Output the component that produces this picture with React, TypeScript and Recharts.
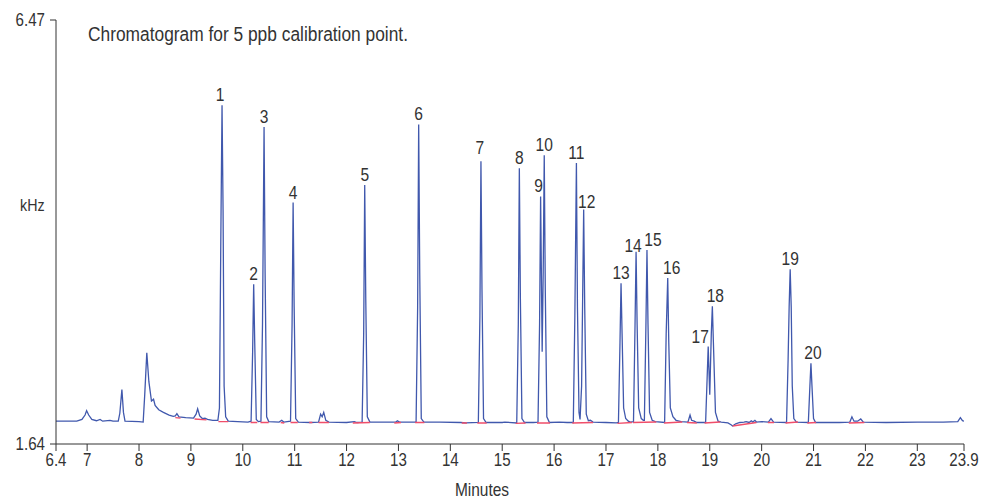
import React from "react";
import { ComposedChart, Line, Scatter, XAxis, YAxis, Label } from "recharts";

// minutes / kHz
const trace: [number, number][] = [
  [6.4, 1.9], [6.6, 1.9], [6.8, 1.9], [6.9, 1.92], [6.96, 1.97], [6.99, 2.02], [7.03, 1.97], [7.09, 1.92],
  [7.18, 1.905], [7.25, 1.92], [7.3, 1.9], [7.44, 1.91], [7.5, 1.9], [7.6, 1.9], [7.63, 1.99], [7.67, 2.26],
  [7.7, 2.0], [7.73, 1.9], [8.0, 1.895], [8.08, 1.89], [8.11, 2.2], [8.15, 2.68], [8.19, 2.35], [8.24, 2.13],
  [8.28, 2.15], [8.31, 2.08], [8.38, 2.03], [8.47, 2.0], [8.58, 1.97], [8.66, 1.955], [8.7, 1.96], [8.73, 1.985],
  [8.77, 1.95], [8.9, 1.94], [9.05, 1.935], [9.1, 1.98], [9.13, 2.04], [9.17, 1.96], [9.22, 1.93], [9.27, 1.935],
  [9.32, 1.92], [9.42, 1.91], [9.52, 1.91],
  [9.55, 2.05], [9.58, 4.2], [9.6, 5.5], [9.62, 4.3], [9.64, 2.3], [9.67, 1.95], [9.72, 1.9],
  [9.9, 1.895], [10.1, 1.89],
  [10.16, 1.9], [10.19, 2.7], [10.21, 3.46], [10.23, 2.8], [10.26, 1.92], [10.3, 1.895],
  [10.35, 1.9], [10.38, 3.0], [10.41, 5.25], [10.43, 3.6], [10.46, 1.95], [10.5, 1.895],
  [10.7, 1.89], [10.75, 1.91], [10.79, 1.89],
  [10.92, 1.9], [10.95, 3.0], [10.97, 4.39], [10.99, 3.2], [11.02, 1.93], [11.07, 1.89],
  [11.3, 1.885], [11.46, 1.89], [11.5, 1.98], [11.53, 1.95], [11.56, 2.0], [11.6, 1.91], [11.66, 1.89],
  [12.0, 1.885], [12.15, 1.895], [12.2, 1.885],
  [12.3, 1.89], [12.33, 2.9], [12.35, 4.59], [12.37, 3.3], [12.4, 1.95], [12.45, 1.89],
  [12.95, 1.89], [12.98, 1.905], [13.02, 1.89],
  [13.34, 1.89], [13.37, 3.2], [13.39, 5.28], [13.41, 3.6], [13.44, 1.93], [13.49, 1.89],
  [13.8, 1.89], [14.2, 1.885], [14.3, 1.88],
  [14.54, 1.885], [14.57, 3.1], [14.59, 4.86], [14.61, 3.4], [14.64, 1.93], [14.69, 1.885],
  [15.0, 1.885], [15.05, 1.89],
  [15.28, 1.88], [15.31, 3.0], [15.33, 4.78], [15.35, 3.3], [15.38, 1.93], [15.43, 1.885],
  [15.6, 1.885],
  [15.69, 1.89], [15.72, 3.0], [15.74, 4.46], [15.77, 2.69], [15.79, 3.6], [15.81, 4.93], [15.83, 3.4],
  [15.86, 1.95], [15.91, 1.885],
  [16.1, 1.89], [16.25, 1.885],
  [16.37, 1.885], [16.4, 3.1], [16.43, 4.84], [16.45, 3.2], [16.48, 2.0], [16.5, 1.92], [16.53, 2.3],
  [16.55, 3.3], [16.57, 4.31], [16.59, 3.2], [16.62, 1.98], [16.66, 1.905], [16.7, 1.91], [16.75, 1.89],
  [17.0, 1.885], [17.2, 1.88],
  [17.24, 1.885], [17.27, 2.8], [17.29, 3.47], [17.31, 2.9], [17.34, 2.05], [17.38, 1.93], [17.43, 1.9], [17.47, 1.89],
  [17.53, 1.895], [17.56, 3.0], [17.58, 3.83], [17.6, 3.0], [17.63, 2.05], [17.68, 1.93], [17.72, 1.91],
  [17.74, 1.91], [17.77, 3.0], [17.79, 3.85], [17.81, 3.0], [17.84, 2.0], [17.89, 1.91], [17.95, 1.895],
  [18.13, 1.885], [18.16, 2.9], [18.19, 3.53], [18.21, 2.8], [18.24, 2.05], [18.29, 1.95], [18.35, 1.91], [18.45, 1.895],
  [18.58, 1.89], [18.62, 1.97], [18.65, 1.91], [18.7, 1.9], [18.75, 1.885],
  [18.92, 1.885], [18.95, 2.4], [18.97, 2.75], [19.0, 2.2], [19.03, 2.9], [19.05, 3.21], [19.07, 2.8],
  [19.11, 2.0], [19.16, 1.9], [19.22, 1.89],
  [19.35, 1.88], [19.41, 1.86], [19.44, 1.845], [19.5, 1.87], [19.58, 1.885], [19.66, 1.89], [19.7, 1.895],
  [19.76, 1.885], [19.8, 1.905], [19.83, 1.89], [19.87, 1.91], [19.9, 1.89], [20.0, 1.895],
  [20.13, 1.89], [20.18, 1.93], [20.23, 1.89],
  [20.48, 1.885], [20.51, 2.6], [20.53, 3.2], [20.55, 3.63], [20.57, 3.2], [20.59, 2.3], [20.62, 1.93], [20.67, 1.89],
  [20.9, 1.885], [20.93, 2.3], [20.95, 2.56], [20.97, 2.3], [21.0, 1.93], [21.04, 1.885],
  [21.5, 1.885], [21.7, 1.89], [21.74, 1.95], [21.78, 1.9], [21.85, 1.9], [21.91, 1.925], [21.96, 1.89],
  [22.4, 1.885], [23.0, 1.89], [23.5, 1.89], [23.78, 1.895], [23.83, 1.94], [23.87, 1.905], [23.9, 1.9],
];

// integration baselines (start min, start kHz, end min, end kHz)
const baselines: [number, number, number, number][] = [
  [8.7, 1.94, 8.8, 1.935], [9.07, 1.925, 9.3, 1.915], [9.53, 1.895, 9.72, 1.895],
  [10.15, 1.885, 10.28, 1.885], [10.34, 1.885, 10.5, 1.885], [10.73, 1.885, 10.8, 1.88],
  [10.92, 1.885, 11.06, 1.885], [11.28, 1.885, 11.34, 1.885], [11.46, 1.885, 11.66, 1.885],
  [12.12, 1.88, 12.45, 1.885], [12.92, 1.88, 13.05, 1.885], [13.32, 1.885, 13.5, 1.885],
  [14.22, 1.88, 14.32, 1.88], [14.52, 1.88, 14.7, 1.88], [15.26, 1.875, 15.45, 1.88],
  [15.67, 1.88, 15.92, 1.88], [16.35, 1.88, 16.75, 1.885], [17.22, 1.875, 17.5, 1.885],
  [17.52, 1.885, 17.97, 1.89], [18.12, 1.88, 18.47, 1.89], [18.56, 1.885, 18.75, 1.88],
  [18.9, 1.88, 19.2, 1.89], [19.44, 1.845, 19.9, 1.885], [20.12, 1.885, 20.24, 1.885],
  [20.46, 1.88, 20.7, 1.89], [20.88, 1.88, 21.05, 1.885], [21.68, 1.88, 21.98, 1.885],
];

const peakLabels = ["1", "2", "3", "4", "5", "6", "7", "8", "9", "10", "11", "12", "13", "14", "15", "16", "17", "18", "19", "20"];
const peakMinutes = [9.6, 10.21, 10.41, 10.97, 12.35, 13.39, 14.59, 15.33, 15.74, 15.81, 16.43, 16.57, 17.29, 17.58, 17.79, 18.19, 18.97, 19.05, 20.55, 20.95];
const peakKHz = [5.5, 3.46, 5.25, 4.39, 4.59, 5.28, 4.86, 4.78, 4.46, 4.93, 4.84, 4.31, 3.47, 3.83, 3.85, 3.53, 2.75, 3.21, 3.63, 2.56];

const xTicks = [6.4, 7, 8, 9, 10, 11, 12, 13, 14, 15, 16, 17, 18, 19, 20, 21, 22, 23, 23.9];
const yTicks = [1.64, 6.47];

const traceData = trace.map(([t, v]) => ({ t, v }));
const baseData: { t: number; v: number | null }[] = [];
baselines.forEach(([t0, v0, t1, v1]) => {
  baseData.push({ t: t0, v: v0 }, { t: t1, v: v1 }, { t: t1 + 0.001, v: null });
});
const peakData = peakLabels.map((label, i) => ({ t: peakMinutes[i], v: peakKHz[i], label }));

const FONT = "'Liberation Sans', Arial, sans-serif";
const INK = "#333";

// the original uses a condensed face; squeeze Liberation Sans horizontally
function Narrow({ x, y, anchor = "middle", size = 18, sx = 0.84, dy, children }: any) {
  return (
    <g transform={`translate(${x},${y})`}>
      <text
        transform={`scale(${sx},1)`}
        textAnchor={anchor}
        dy={dy}
        fontSize={size}
        fill={INK}
        fontFamily={FONT}
      >
        {children}
      </text>
    </g>
  );
}

const XTick = (p: any) => (
  <Narrow x={p.x} y={p.y} dy="0.71em">
    {String(p.payload.value)}
  </Narrow>
);

const YTick = (p: any) => (
  <Narrow x={p.x} y={p.y} anchor="end" dy="0.355em">
    {String(p.payload.value)}
  </Narrow>
);

// small nudges so labels sit where they do in the original
const nudge: Record<string, [number, number]> = {
  "1": [-2, 0], "9": [-2, 0], "12": [3, 2], "14": [-3, 4], "15": [6, 0], "16": [4, 0],
  "17": [-8, 0], "18": [3, 0], "20": [2, 0], "7": [-1, -3],
};

function PeakLabel(props: any) {
  const { cx, cy, payload } = props;
  const [dx, dy] = nudge[payload.label] || [0, 0];
  return (
    <Narrow x={cx + dx} y={cy - 4 + dy} size={19} sx={0.82}>
      {payload.label}
    </Narrow>
  );
}

export default function App() {
  return (
    <div style={{ position: "absolute", left: 0, top: 0, width: 996, height: 499, background: "#fff" }}>
      <div
        style={{
          position: "absolute",
          left: 88,
          top: 23,
          fontSize: 20,
          fontFamily: FONT,
          color: INK,
          whiteSpace: "nowrap",
          transform: "scaleX(0.867)",
          transformOrigin: "0 0",
        }}
      >
        Chromatogram for 5 ppb calibration point.
      </div>
      <ComposedChart width={996} height={499} margin={{ top: 20, right: 32, bottom: 0, left: 0 }}>
        <XAxis
          type="number"
          dataKey="t"
          domain={[6.4, 23.9]}
          ticks={xTicks}
          interval={0}
          allowDataOverflow
          height={55}
          stroke={INK}
          tickSize={7}
          tick={XTick}
        >
          <Label
            content={({ viewBox }: any) => (
              <Narrow x={viewBox.x + viewBox.width / 2 - 28} y={viewBox.y + viewBox.height - 3} sx={0.86}>
                Minutes
              </Narrow>
            )}
          />
        </XAxis>
        <YAxis
          type="number"
          dataKey="v"
          domain={[1.64, 6.47]}
          ticks={yTicks}
          interval={0}
          allowDataOverflow
          width={56}
          stroke={INK}
          tickSize={6}
          tickMargin={5}
          tick={YTick}
        >
          <Label
            content={({ viewBox }: any) => (
              <Narrow x={viewBox.x + 20} y={211} anchor="start" size={17} sx={0.84}>
                kHz
              </Narrow>
            )}
          />
        </YAxis>
        <Line
          data={traceData}
          dataKey="v"
          type="linear"
          stroke="#4058ad"
          strokeWidth={1.3}
          dot={false}
          isAnimationActive={false}
        />
        <Line
          data={baseData}
          dataKey="v"
          type="linear"
          stroke="#f04e6a"
          strokeWidth={1.4}
          dot={false}
          connectNulls={false}
          isAnimationActive={false}
        />
        <Scatter data={peakData} dataKey="v" shape={PeakLabel} isAnimationActive={false} />
      </ComposedChart>
    </div>
  );
}
